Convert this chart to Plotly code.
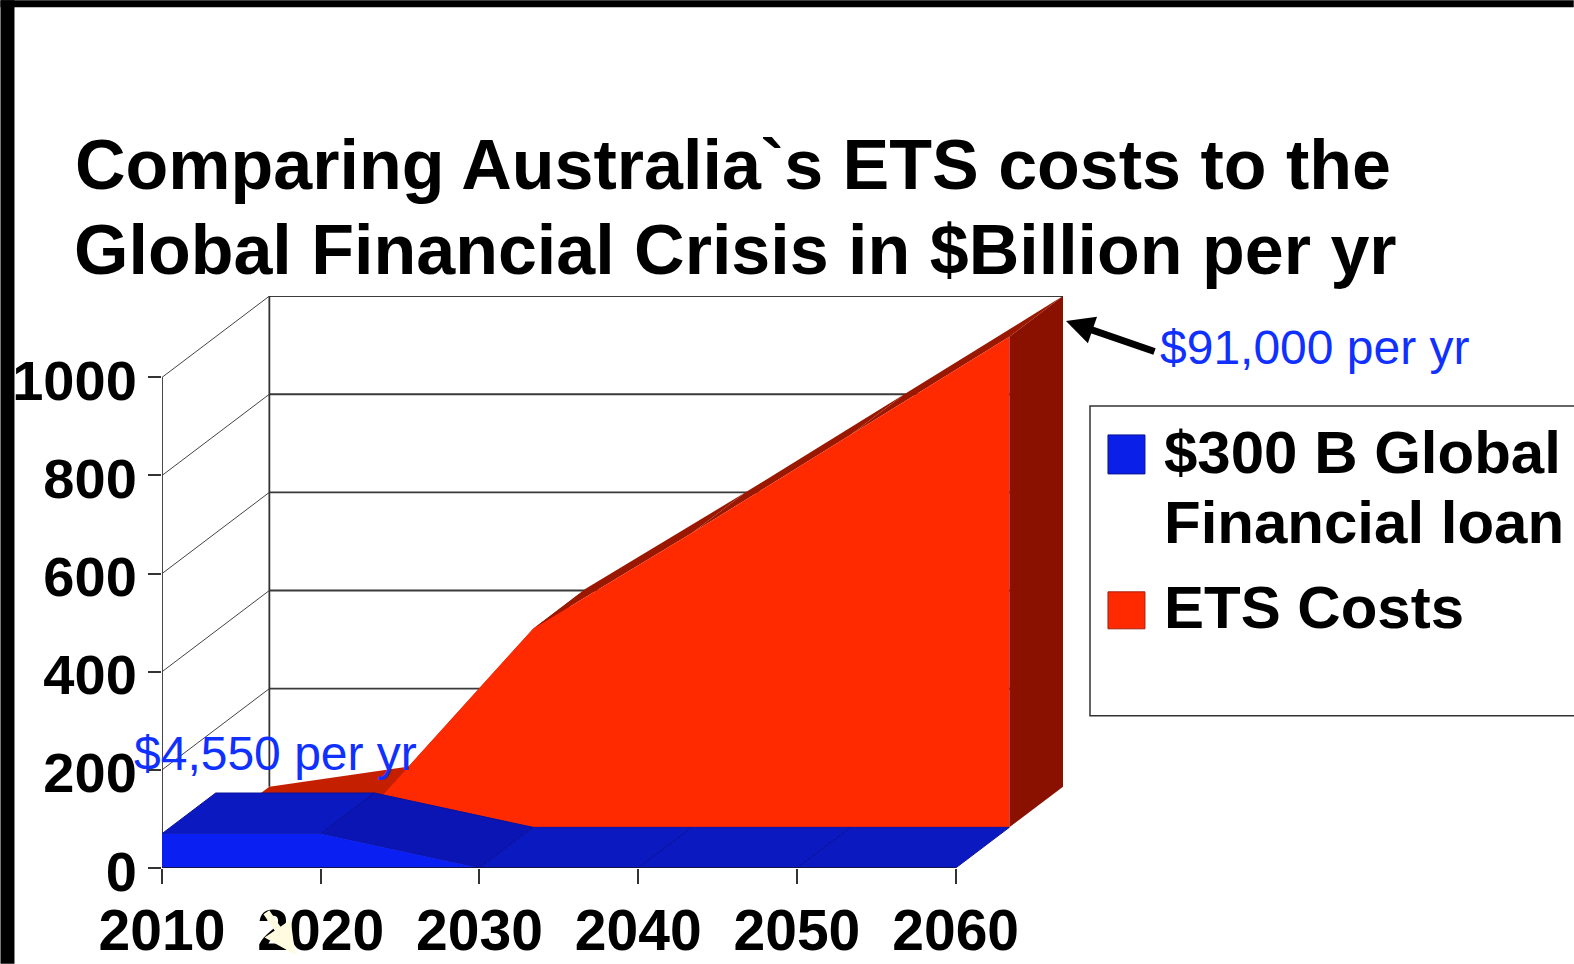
import plotly.graph_objects as go

# ---- data ----
years = [2010, 2020, 2030, 2040, 2050, 2060]
global_loan = [70, 70, 0, 0, 0, 0]
ets_costs = [0, 47, 405, 600, 800, 1000]
y_ticks = [0, 200, 400, 600, 800, 1000]
title_lines = ["Comparing Australia`s ETS costs to the", "Global Financial Crisis in $Billion per yr"]
legend_loan = ["$300 B Global", "Financial loan"]
legend_ets = "ETS Costs"
note_high = "$91,000 per yr"
note_low = "$4,550 per yr"

# ---- layout constants (pixels in the 1574x964 page) ----
W, H = 1574, 964
L, R, T, B = 161.6, 1064.0, 296.0, 868.3
YEAR_PX = 15.88
VAL_PX = 0.4909
DEPTH_YEARS = 107.4 / YEAR_PX      # oblique projection of the depth axis
DEPTH_VALUE = 81.3 / VAL_PX


def px_x(p):
    return (p - L) / (R - L)


def px_y(p):
    return (B - p) / (B - T)


def proj(year, value, depth):
    return year + depth * DEPTH_YEARS, value + depth * DEPTH_VALUE


def poly(points, fill, name, line=None, width=0):
    xs, ys = zip(*[proj(*p) for p in points])
    return go.Scatter(
        x=list(xs) + [xs[0]], y=list(ys) + [ys[0]], mode="lines", fill="toself",
        fillcolor=fill, line=dict(color=line or fill, width=width if line else 0),
        showlegend=False, hoverinfo="skip", name=name, cliponaxis=False,
    )


def segs(pairs, color, width, name):
    xs, ys = [], []
    for a, b in pairs:
        pa, pb = proj(*a), proj(*b)
        xs += [pa[0], pb[0], None]
        ys += [pa[1], pb[1], None]
    return go.Scatter(x=xs, y=ys, mode="lines", line=dict(color=color, width=width),
                      showlegend=False, hoverinfo="skip", name=name, cliponaxis=False)


fig = go.Figure()
x0, xn = years[0], years[-1]

# walls
fig.add_trace(segs([((x0, v, 1), (xn, v, 1)) for v in y_ticks[1:]], "#3a3a3a", 1.8, "back wall grid"))
fig.add_trace(segs([((x0, v, 0), (x0, v, 1)) for v in y_ticks[1:]], "#444444", 1, "side wall grid"))
fig.add_trace(segs([((x0, 0, 1), (x0, 1000, 1)), ((x0, 0, 0), (x0, 1000, 0))], "#333333", 1.8, "wall edges"))

# ETS ribbon (depth 0.5 to 1)
fig.add_trace(poly([(xn, ets_costs[-1], .5), (xn, ets_costs[-1], 1), (xn, 0, 1), (xn, 0, .5)], "#8a1000", "ETS side"))
for i in range(len(years) - 1):
    a, b = years[i], years[i + 1]
    va, vb = ets_costs[i], ets_costs[i + 1]
    shade = "#c42000" if i == 0 else "#9a1800"
    fig.add_trace(poly([(a, va, .5), (b, vb, .5), (b, vb, 1), (a, va, 1)], shade, "ETS top"))
fig.add_trace(poly([(x0, 0, .5)] + [(y, v, .5) for y, v in zip(years, ets_costs)] + [(xn, 0, .5)], "#ff2a00", "ETS Costs"))

# Global loan ribbon (depth 0 to 0.5)
for i in range(len(years) - 1):
    a, b = years[i], years[i + 1]
    va, vb = global_loan[i], global_loan[i + 1]
    shade = "#0a15b4" if i == 1 else "#0a19c0"
    fig.add_trace(poly([(a, va, 0), (b, vb, 0), (b, vb, .5), (a, va, .5)], shade, "Loan top", "#0a129c", 1))
fig.add_trace(poly([(x0, 0, 0)] + [(y, v, 0) for y, v in zip(years, global_loan)] + [(xn, 0, 0)],
                   "#0a20f2", "$300 B Global Financial loan"))
fig.add_trace(segs([((x0, 0, 0), (xn, 0, 0))], "#14144a", 2, "floor edge"))

sans = "Liberation Sans, Arial, sans-serif"

shapes = [
    # black scan borders
    dict(type="rect", xref="paper", yref="paper", x0=px_x(0), x1=px_x(14), y0=px_y(H), y1=px_y(0),
         fillcolor="black", line_width=0),
    dict(type="rect", xref="paper", yref="paper", x0=px_x(0), x1=px_x(W), y0=px_y(7), y1=px_y(0),
         fillcolor="black", line_width=0),
    # legend box and swatches
    dict(type="rect", xref="paper", yref="paper", x0=px_x(1090), x1=px_x(W + 10), y0=px_y(716), y1=px_y(406),
         fillcolor="white", line=dict(color="#333333", width=1.5)),
    dict(type="rect", xref="paper", yref="paper", x0=px_x(1108), x1=px_x(1145), y0=px_y(474), y1=px_y(435),
         fillcolor="#0a20e8", line=dict(color="#0a1490", width=1)),
    dict(type="rect", xref="paper", yref="paper", x0=px_x(1108), x1=px_x(1145), y0=px_y(629), y1=px_y(592),
         fillcolor="#ff2a00", line=dict(color="#a02010", width=1)),
]


def label(text, px, py, size, color, bold=False):
    return dict(text=f"<b>{text}</b>" if bold else text, xref="paper", yref="paper",
                x=px_x(px), y=px_y(py), xanchor="left", yanchor="middle", align="left",
                showarrow=False, font=dict(family=sans, size=size, color=color))


def arrow(tip, tail, color, width, size):
    return dict(text="", xref="paper", yref="paper", x=px_x(tip[0]), y=px_y(tip[1]),
                ax=tail[0] - tip[0], ay=tail[1] - tip[1], axref="pixel", ayref="pixel",
                showarrow=True, arrowhead=2, arrowsize=size, arrowwidth=width, arrowcolor=color)


annotations = [
    label(title_lines[1], 72, 250, 70, "black", True),
    label(note_high, 1158, 348, 48, "#1030ff"),
    label(note_low, 132, 754, 48, "#1030ff"),
    label(legend_loan[0], 1162, 453, 60, "black", True),
    label(legend_loan[1], 1162, 523, 60, "black", True),
    label(legend_ets, 1162, 608, 60, "black", True),
    arrow((1066, 321), (1156, 352), "black", 7, 0.8),
    arrow((295, 955), (265, 911), "#fffbe0", 7, 0.9),
]

fig.update_layout(
    width=W, height=H, autosize=False,
    margin=dict(l=L, r=W - R, t=T, b=H - B, pad=0),
    paper_bgcolor="white", plot_bgcolor="white", showlegend=False,
    title=dict(text="<b>" + title_lines[0] + "</b>", x=75 / W, xanchor="left", xref="container",
               y=1 - 164 / H, yanchor="middle", font=dict(family=sans, size=70, color="black")),
    xaxis=dict(range=[x0, x0 + (R - L) / YEAR_PX], tickmode="array", tickvals=years, automargin=False,
               ticktext=[str(y) for y in years], ticks="outside", ticklen=15, tickwidth=1.5,
               tickcolor="#333333", showgrid=False, zeroline=False, showline=False,
               ticklabelstandoff=-2,
               tickfont=dict(family=sans, size=57, color="black", weight="bold")),
    yaxis=dict(range=[0, (B - T) / VAL_PX], tickmode="array", tickvals=y_ticks, automargin=False,
               ticktext=[str(v) for v in y_ticks], ticks="outside", ticklen=13, tickwidth=1.5,
               tickcolor="#333333", showgrid=False, zeroline=False, showline=False,
               ticklabelshift=3,
               tickfont=dict(family=sans, size=56, color="black", weight="bold")),
    shapes=shapes, annotations=annotations,
)

fig.write_html("out.html", config={"displayModeBar": False},
               post_script="document.body.style.margin='0';document.body.style.overflow='hidden';")
